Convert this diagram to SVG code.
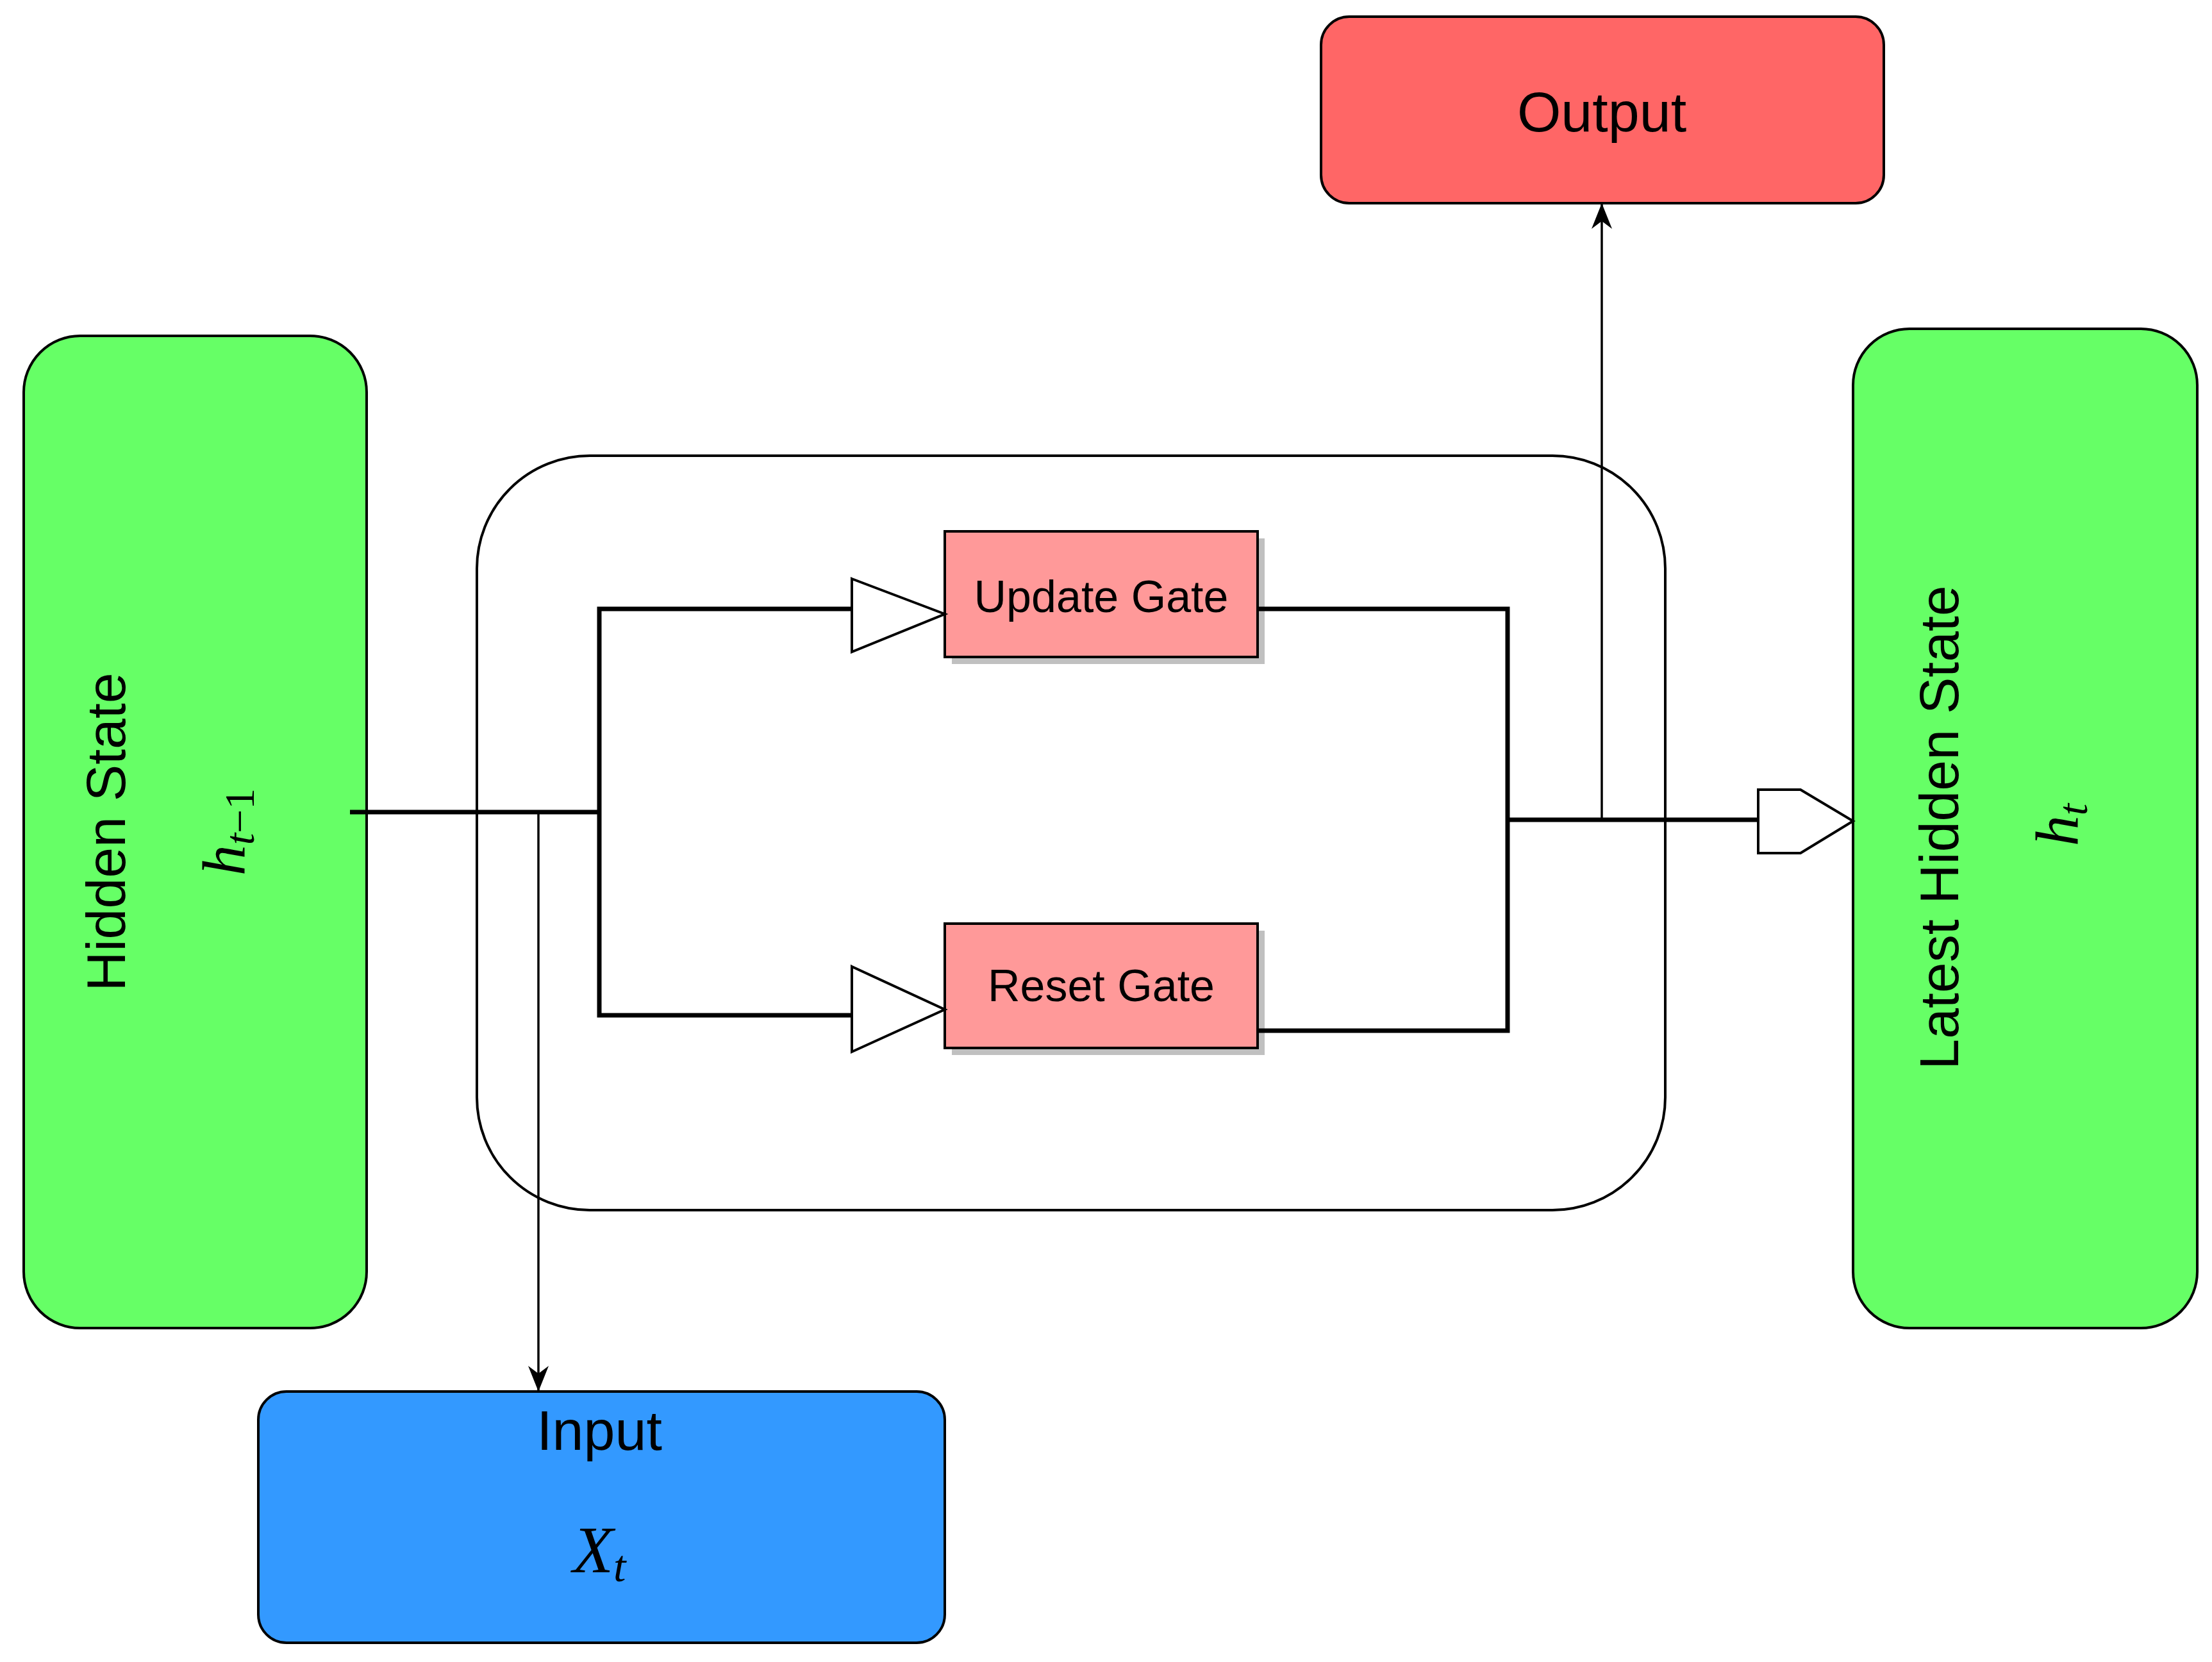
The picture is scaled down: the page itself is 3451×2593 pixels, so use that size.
<svg xmlns="http://www.w3.org/2000/svg" width="3451" height="2593" viewBox="0 0 3451 2593">
<style>
.lbl{font-family:"Liberation Sans",Arial,sans-serif;fill:#000;text-anchor:middle}
.math{font-family:"Liberation Serif","Times New Roman",serif;font-style:italic;fill:#000;text-anchor:middle}
.box{stroke:#000;stroke-width:4}
.thick{fill:none;stroke:#000;stroke-width:7}
.thin{fill:none;stroke:#000;stroke-width:3.5}
</style>
<defs>
<marker id="arr" viewBox="0 0 40 40" refX="38" refY="20" markerWidth="40" markerHeight="40" markerUnits="userSpaceOnUse" orient="auto">
<path d="M0,4 L40,20 L0,36 L12,20 Z" fill="#000"/>
</marker>
</defs>
<rect width="3451" height="2593" fill="#fff"/>
<g id="container"><rect x="744" y="711" width="1854" height="1177" rx="176" fill="none" stroke="#000" stroke-width="4"/></g>
<g id="output"><rect class="box" x="2061" y="26" width="878" height="291" rx="44" fill="#FF6666"/><text class="lbl" x="2499" y="205" font-size="88">Output</text></g>
<g id="hidden"><rect class="box" x="37" y="524" width="535" height="1548" rx="88" fill="#66FF66"/>
<text class="lbl" font-size="86" transform="translate(195,1298) rotate(-90)">Hidden State</text>
<text class="math" font-size="96" transform="translate(382,1298) rotate(-90)">h<tspan font-size="66" dy="14">t</tspan><tspan font-size="66" font-style="normal">−1</tspan></text></g>
<g id="latest"><rect class="box" x="2891" y="513" width="537" height="1559" rx="88" fill="#66FF66"/>
<text class="lbl" font-size="86" transform="translate(3055,1291) rotate(-90)">Latest Hidden State</text>
<text class="math" font-size="96" transform="translate(3242,1287) rotate(-90)">h<tspan font-size="66" dy="14">t</tspan></text></g>
<g id="input"><rect class="box" x="403" y="2171" width="1071" height="392" rx="44" fill="#3399FF"/>
<text class="lbl" x="935" y="2262" font-size="88">Input</text>
<text class="math" x="935" y="2453" font-size="104">X<tspan font-size="70" dy="14">t</tspan></text></g>
<g id="update"><rect x="1485" y="840" width="488" height="196" fill="#c0c0c0"/><rect class="box" x="1474" y="829" width="488" height="196" fill="#FF9999"/><text class="lbl" x="1718" y="955" font-size="70">Update Gate</text></g>
<g id="reset"><rect x="1485" y="1452" width="488" height="194" fill="#c0c0c0"/><rect class="box" x="1474" y="1441" width="488" height="194" fill="#FF9999"/><text class="lbl" x="1718" y="1562" font-size="70">Reset Gate</text></g>
<g id="connectors">
<polyline class="thick" points="546,1267 935,1267"/>
<polyline class="thick" points="1329,950 935,950 935,1584 1329,1584"/>
<polygon points="1329,903 1474,958 1329,1017" fill="#fff" stroke="#000" stroke-width="4"/>
<polygon points="1329,1508 1474,1575 1329,1641" fill="#fff" stroke="#000" stroke-width="4"/>
<polyline class="thick" points="1962,950 2352,950 2352,1608 1962,1608"/>
<polyline class="thick" points="2352,1279 2743,1279"/>
<polygon points="2743,1232 2809,1232 2891,1281 2809,1331 2743,1331" fill="#fff" stroke="#000" stroke-width="4"/>
<line class="thin" x1="2499" y1="1279" x2="2499" y2="319" marker-end="url(#arr)"/>
<line class="thin" x1="840" y1="1270" x2="840" y2="2169" marker-end="url(#arr)"/>
</g>
</svg>
